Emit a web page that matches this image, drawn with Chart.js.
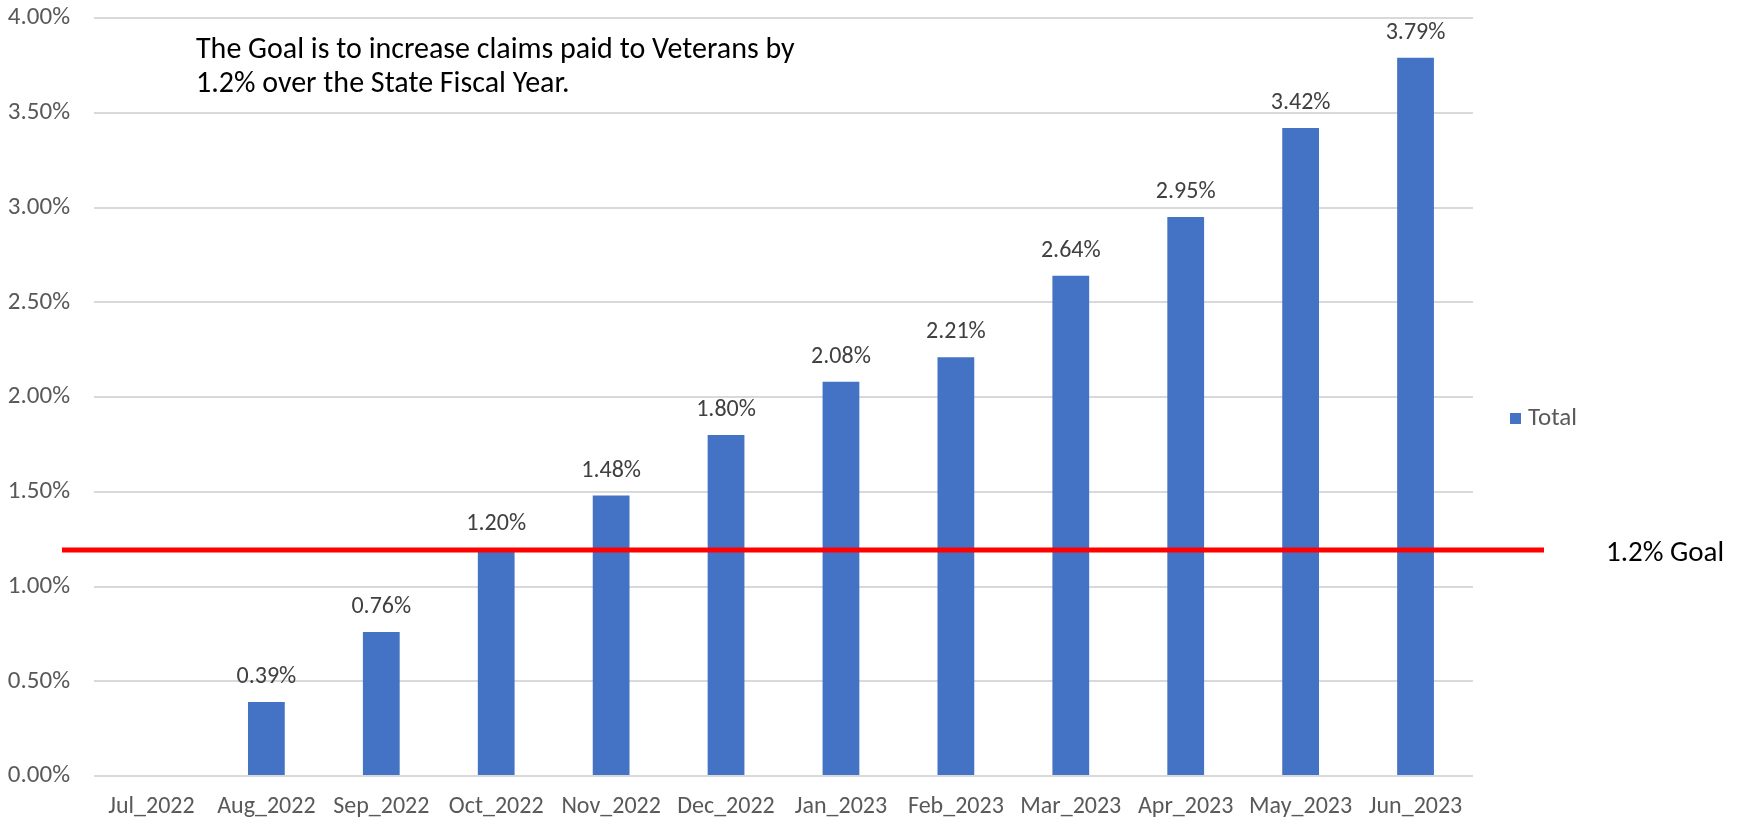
<!DOCTYPE html>
<html>
<head>
<meta charset="utf-8">
<script src="https://cdn.jsdelivr.net/npm/chart.js@4"></script>
<style>
  html, body { margin: 0; padding: 0; background: #fff; }
  #wrap { width: 1743px; height: 819px; position: relative; }
</style>
</head>
<body>
<div id="wrap"><canvas id="goalChart" width="1743" height="819"></canvas></div>
<script>
// months on the x axis
const months = ["Jul_2022", "Aug_2022", "Sep_2022", "Oct_2022", "Nov_2022", "Dec_2022",
  "Jan_2023", "Feb_2023", "Mar_2023", "Apr_2023", "May_2023", "Jun_2023"];
// cumulative increase in percent (July has no value)
const totals = [null, 0.39, 0.76, 1.20, 1.48, 1.80, 2.08, 2.21, 2.64, 2.95, 3.42, 3.79];
const goalValue = 1.2;
const yTicks = [0, 0.5, 1, 1.5, 2, 2.5, 3, 3.5, 4];
const noteLines = ["The Goal is to increase claims paid to Veterans by", "1.2% over the State Fiscal Year."];

const FONT = "Carlito, Lato, 'Open Sans', sans-serif";
const BLUE = "#4472c4";

// value labels, goal line and the text notes
const extras = {
  id: "extras",
  afterDatasetsDraw(chart) {
    const ctx = chart.ctx;
    const y = chart.scales.y;
    const meta = chart.getDatasetMeta(0);

    ctx.save();
    ctx.font = "24px " + FONT;
    ctx.fillStyle = "#404040";
    ctx.textAlign = "center";
    ctx.textBaseline = "middle";
    meta.data.forEach(function(bar, i) {
      if (totals[i] == null) return;
      ctx.fillText(totals[i].toFixed(2) + "%", bar.x, bar.y - 25);
    });

    // goal line (sits a hair below the 1.2 value in the original)
    const gy = y.getPixelForValue(goalValue) + 1.5;
    ctx.strokeStyle = "#ff0000";
    ctx.lineWidth = 5;
    ctx.beginPath();
    ctx.moveTo(62, gy);
    ctx.lineTo(1544, gy);
    ctx.stroke();

    ctx.fillStyle = "#000";
    ctx.textAlign = "left";
    ctx.font = "29px " + FONT;
    ctx.fillText("1.2% Goal", 1606, gy + 4);

    // note at the top
    ctx.font = "30px " + FONT;
    ctx.fillText(noteLines[0], 196, 50);
    ctx.fillText(noteLines[1], 196, 84);

    // legend
    ctx.fillStyle = BLUE;
    ctx.fillRect(1510, 413, 11, 11);
    ctx.fillStyle = "#595959";
    ctx.font = "25px " + FONT;
    ctx.fillText("Total", 1528, 419);
    ctx.restore();
  }
};

new Chart("goalChart", {
  type: "bar",
  data: {
    labels: months,
    datasets: [{
      label: "Total",
      data: totals,
      backgroundColor: BLUE,
      barPercentage: 0.32,
      categoryPercentage: 1
    }]
  },
  options: {
    responsive: false,
    animation: false,
    layout: { padding: { top: 18, right: 270, bottom: 0, left: 0 } },
    plugins: {
      legend: { display: false },
      tooltip: { enabled: false }
    },
    scales: {
      x: {
        grid: { display: false },
        border: { display: false },
        ticks: { color: "#595959", font: { family: FONT, size: 24 }, padding: 9, maxRotation: 0, autoSkip: false },
        afterFit: function(s) { s.height = 43; s.paddingLeft = 0; s.paddingRight = 0; }
      },
      y: {
        min: 0,
        max: 4,
        afterBuildTicks: function(s) { s.ticks = yTicks.map(v => ({ value: v })); },
        grid: { color: "#d9d9d9", lineWidth: 2, drawTicks: false },
        border: { display: false },
        ticks: {
          color: "#595959",
          font: { family: FONT, size: 25 },
          padding: 24,
          callback: v => v.toFixed(2) + "%"
        },
        afterFit: function(s) { s.width = 94; s.paddingTop = 0; s.paddingBottom = 0; }
      }
    }
  },
  plugins: [extras]
});
</script>
</body>
</html>
